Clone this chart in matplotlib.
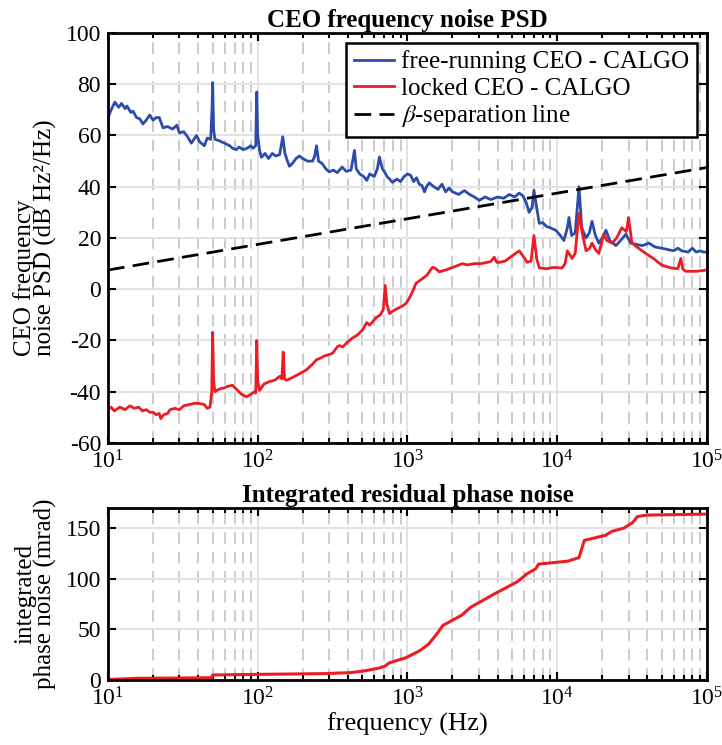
import matplotlib
matplotlib.use('Agg')
import matplotlib.pyplot as plt
from matplotlib.ticker import LogLocator, NullFormatter

plt.rcParams['font.family'] = ['Liberation Serif', 'DejaVu Serif']
plt.rcParams['mathtext.fontset'] = 'stix'
plt.rcParams['axes.unicode_minus'] = False
plt.rcParams['font.size'] = 16

# free-running CEO PSD (Hz, dB Hz^2/Hz)
free_f = [10, 10.5, 11.1, 11.8, 12.3, 13, 13.4, 14.2, 14.7, 15.5, 16.3, 17.1, 18, 19, 20, 21, 22,
          23.3, 25, 27, 28.8, 30, 32, 34, 36, 38, 39, 41, 44, 46, 48.5, 49.5, 50, 50.8, 51.8, 55,
          60, 65, 68, 72, 75, 80, 85, 90, 93, 97, 98.5, 100, 103, 106, 112, 118, 125, 132, 140,
          147, 152, 158, 163, 170, 180, 190, 200, 215, 233, 240, 247, 255, 270, 285, 300, 320,
          340, 366, 390, 420, 443, 455, 480, 510, 535, 560, 600, 630, 650, 680, 700, 730, 760,
          794, 850, 900, 950, 1000, 1050, 1100, 1150, 1200, 1250, 1300, 1340, 1400, 1500, 1600,
          1700, 1800, 1900, 2000, 2200, 2400, 2600, 2800, 3020, 3300, 3600, 4000, 4400, 4800,
          5200, 5580, 5900, 6200, 6500, 6800, 7000, 7200, 7600, 8000, 8500, 9000, 9800, 10500,
          11100, 11700, 12000, 12500, 13200, 14000, 14600, 15600, 16400, 17100, 18000, 19000,
          20000, 21200, 22500, 24700, 26500, 28800, 31000, 34000, 37000, 41000, 45000, 50000,
          55000, 60000, 64000, 68000, 75000, 80000, 85000, 90000, 95000, 100000]
free_db = [67, 70, 73, 71, 72.5, 70.5, 71.5, 69, 69.5, 67, 66.5, 64.5, 66, 68, 66, 67, 67,
           63, 63.5, 62.5, 64, 61, 61.5, 59.5, 57, 59, 60, 57.5, 56, 59, 58.5, 70, 80.6, 62, 58.5, 58,
           57, 56, 55, 54.5, 55.5, 54.5, 55, 56, 55, 56, 77, 60, 54, 51.5, 53, 51, 53, 52, 52.5,
           59.5, 53, 50, 48, 49, 51, 52, 51, 50, 50, 52, 56, 50, 49, 47, 45.8, 46.5,
           45.5, 47.7, 46, 46.5, 54.2, 47, 45, 44, 42.5, 45, 44, 47, 51.6, 47, 46, 44, 43,
           41.7, 43, 42, 44, 45, 44.5, 42, 43.5, 41, 40.5, 38, 40, 41.5, 40, 39,
           41, 38, 39.5, 38, 37, 38.5, 37, 36, 34.7, 36, 35, 36, 35.5, 37,
           36, 37.5, 36.5, 34, 30, 32, 38.6, 34, 25.7, 26, 24.5, 24, 23, 21,
           19, 24, 28, 21, 22, 40, 24, 20, 22, 26.5, 21, 18,
           20, 23, 19, 17, 19, 21.5, 18, 17.5, 17, 18, 16.5, 16,
           15.5, 15, 16, 15, 14.5, 16, 14.5, 15, 14.5, 14.5]

# locked CEO PSD
lock_f = [10, 10.5, 11, 12, 13, 14, 15, 16, 17, 18, 19, 20, 21, 22, 22.5, 23.5, 25, 26, 28, 30,
          32, 35, 38, 41, 44, 46, 48, 49.3, 50, 50.8, 51.8, 55, 60, 62, 68, 72, 78, 84, 90, 95,
          97, 98.5, 100, 103, 110, 120, 130, 140, 145, 148, 151, 156, 170, 190, 211, 230, 247,
          260, 280, 300, 316, 340, 350, 370, 400, 430, 460, 500, 535, 560, 600, 620, 660, 690,
          710, 730, 760, 800, 860, 930, 980, 1040, 1100, 1140, 1250, 1350, 1470, 1550, 1630,
          1800, 2000, 2330, 2500, 2800, 3100, 3400, 3600, 3800, 3950, 4100, 4500, 5000, 5580,
          6000, 6300, 6700, 7000, 7300, 7600, 8500, 9500, 10800, 11300, 11700, 12600, 13200,
          14000, 14700, 15600, 16500, 17100, 18000, 19000, 20500, 21500, 23300, 25000, 27000,
          29000, 30000, 31600, 35000, 39000, 44000, 50000, 58000, 64000, 67000, 69000, 72000,
          85000, 100000]
lock_db = [-47, -46, -47.5, -46, -47, -45.5, -46.5, -46, -47.5, -47, -48, -48, -49, -48.5, -50.5, -49, -48.5, -47, -46.5, -47,
           -45.5, -45, -44.5, -44.6, -45, -46.5, -46, -40, -16.8, -36, -40, -39, -38.5, -38, -37.5, -39, -41, -42, -41, -40,
           -40.5, -20, -36, -39.5, -37, -36, -35.5, -34, -35, -24.5, -35, -35.5, -34.5, -33, -31.5, -29.5, -27.5,
           -27, -26, -25.5, -25, -22.5, -22, -22.5, -20.5, -19, -18, -16, -13, -14, -12, -11, -10, -8,
           1.5, -6, -9.5, -8.5, -7.5, -6.5, -5.5, -3, 0, 2.3, 4, 5.5, 8.6, 8, 6.8,
           7.5, 8.5, 10, 9.5, 10, 10, 10.5, 10.8, 12.5, 10.5, 10.5, 11, 13, 15,
           12.5, 10.5, 11, 21, 12, 8.3, 8, 8.5, 8.3, 10, 15, 12, 14,
           29.6, 22, 15, 16, 18, 15.5, 14, 21.5, 19, 18, 20, 24,
           22.5, 28, 18, 16, 14, 12, 9.4, 8.3, 8, 12, 8, 7,
           7, 7.5]

# beta-separation line end points
beta_f = [10, 100000]
beta_db = [7.5, 47.5]

# integrated residual phase noise (mrad)
int_f = [10, 15.7, 30, 49, 50, 100, 270, 415, 515, 635, 705, 757, 975, 1210, 1385, 1600, 1725,
         2300, 2650, 3800, 5400, 6300, 7200, 7500, 11800, 14000, 15200, 21000, 23300, 27800,
         32000, 34400, 39800, 100000]
int_mrad = [0.5, 1.7, 2.0, 2.3, 5, 5.6, 6.3, 7.3, 9, 11.6, 13.6, 17, 22, 29, 35.5, 47, 54,
            64, 72, 85, 97, 105, 110, 114.5, 117.5, 121, 138, 143, 147, 150,
            155.7, 161.6, 163, 164]

blue = '#2b4cab'
red = '#ec1c24'

fig = plt.figure(figsize=(7.22, 7.45), dpi=100)
ax1 = fig.add_axes([0.1496, 0.4054, 0.8294, 0.5503])
ax2 = fig.add_axes([0.1496, 0.0872, 0.8294, 0.2309])


def style(ax):
    ax.set_xscale('log')
    ax.set_xlim(10, 1e5)
    ax.xaxis.set_major_locator(LogLocator(base=10, numticks=10))
    ax.xaxis.set_minor_locator(LogLocator(base=10, subs=range(2, 10), numticks=100))
    ax.xaxis.set_minor_formatter(NullFormatter())
    ax.grid(True, which='major', color='#e3e3e3', linewidth=1.5, linestyle='-')
    ax.grid(True, which='minor', axis='x', color='#cbcbcb', linewidth=1.4, linestyle=(0, (6, 4)))
    ax.set_axisbelow(True)
    ax.tick_params(which='both', direction='in', top=True, right=True, width=1.5)
    ax.tick_params(which='major', length=6, labelsize=17, pad=5)
    ax.tick_params(which='minor', length=3.5)
    for s in ax.spines.values():
        s.set_linewidth(2)


ax1.plot(free_f, free_db, color=blue, lw=2, label='free-running CEO - CALGO')
ax1.plot(lock_f, lock_db, color=red, lw=2, label='locked CEO - CALGO')
ax1.plot(beta_f, beta_db, color='black', lw=2, ls=(0, (6, 3)), label=r'$\beta$-separation line')
style(ax1)
ax1.set_ylim(-60, 100)
ax1.set_yticks(range(-60, 101, 20))
ax1.set_ylabel('CEO frequency\nnoise PSD (dB Hz²/Hz)', fontsize=18, labelpad=6,
               linespacing=0.9, multialignment='left')
ax1.set_title('CEO frequency noise PSD', fontsize=18, fontweight='bold', pad=4)
leg = ax1.legend(loc='upper right', fontsize=18, fancybox=False, framealpha=1,
                 edgecolor='black', borderaxespad=0.4, handlelength=1.6, handletextpad=0.3,
                 labelspacing=0.15, borderpad=0.3)
leg.get_frame().set_linewidth(1.8)

ax2.plot(int_f, int_mrad, color=red, lw=2.2)
style(ax2)
ax2.set_ylim(0, 170)
ax2.set_yticks([0, 50, 100, 150])
ax2.set_xlabel('frequency (Hz)', fontsize=19, labelpad=2)
ax2.set_ylabel('integrated\nphase noise (mrad)', fontsize=18, labelpad=6, linespacing=0.9)
ax2.set_title('Integrated residual phase noise', fontsize=18, fontweight='bold', pad=4)

fig.savefig('out.png', dpi=100)
